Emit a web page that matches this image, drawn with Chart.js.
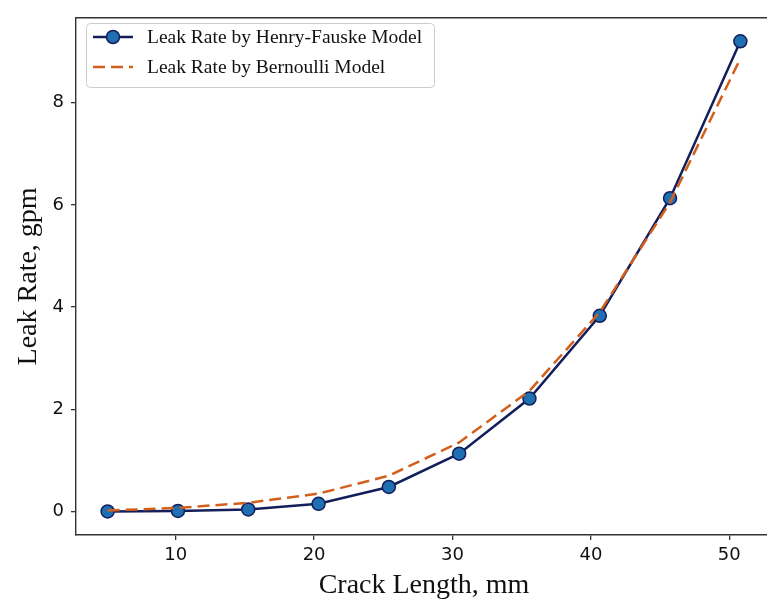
<!DOCTYPE html>
<html>
<head>
<meta charset="utf-8">
<title>Leak Rate vs Crack Length</title>
<script src="https://cdn.jsdelivr.net/npm/chart.js@4/dist/chart.umd.min.js"></script>
<style>
    html, body { margin: 0; padding: 0; background: #fff; overflow: hidden; }
    #wrap { width: 780px; height: 604px; }
</style>
</head>
<body>
<div id="wrap"><canvas id="chart-leak" width="780" height="604"></canvas></div>
<script>
// crack lengths in mm (0.2 in steps)
const crackLength = [5.08, 10.16, 15.24, 20.32, 25.4, 30.48, 35.56, 40.64, 45.72, 50.8];
const henryFauske = [0.0, 0.01, 0.04, 0.15, 0.48, 1.13, 2.21, 3.83, 6.13, 9.2];
const bernoulli = [0.02, 0.07, 0.17, 0.35, 0.7, 1.35, 2.36, 3.9, 6.05, 8.86];
const xTicks = [10, 20, 30, 40, 50];
const yTicks = [0, 2, 4, 6, 8];

const serif = "'Liberation Serif', 'Times New Roman', serif";
const sans = "'DejaVu Sans', sans-serif";

const toPoints = (ys) => crackLength.map((x, i) => ({ x, y: ys[i] }));

// top spine + legend box drawn over the plot
const frameAndLegend = {
    id: 'frameAndLegend',
    afterDraw(chart) {
        const { ctx, chartArea } = chart;
        ctx.save();
        ctx.strokeStyle = '#333';
        ctx.lineWidth = 1.4;
        ctx.beginPath();
        ctx.moveTo(chartArea.left, chartArea.top);
        ctx.lineTo(chartArea.right, chartArea.top);
        ctx.stroke();

        const box = { x: 86, y: 23, w: 348, h: 64 };
        ctx.fillStyle = 'rgba(255,255,255,0.85)';
        ctx.strokeStyle = '#cccccc';
        ctx.lineWidth = 1;
        ctx.beginPath();
        ctx.roundRect(box.x + 0.5, box.y + 0.5, box.w, box.h, 4);
        ctx.fill();
        ctx.stroke();

        const dss = chart.data.datasets;
        ctx.font = '19.5px ' + serif;
        ctx.textBaseline = 'middle';
        dss.forEach((ds, i) => {
            const y = 37 + i * 30;
            ctx.strokeStyle = ds.borderColor;
            ctx.lineWidth = ds.borderWidth;
            ctx.setLineDash(ds.borderDash || []);
            ctx.beginPath();
            ctx.moveTo(93, y);
            ctx.lineTo(133, y);
            ctx.stroke();
            ctx.setLineDash([]);
            if (ds.pointRadius > 0) {
                ctx.fillStyle = ds.pointBackgroundColor;
                ctx.strokeStyle = ds.pointBorderColor;
                ctx.lineWidth = ds.pointBorderWidth;
                ctx.beginPath();
                ctx.arc(113, y, ds.pointRadius, 0, Math.PI * 2);
                ctx.fill();
                ctx.stroke();
            }
            ctx.fillStyle = '#111';
            ctx.fillText(ds.label, 147, y + 1);
        });
        ctx.restore();
    }
};

const axisGrid = {
    display: true,
    drawOnChartArea: false,
    drawTicks: true,
    tickLength: 5,
    color: '#333',
    lineWidth: 1.3
};

new Chart(document.getElementById('chart-leak'), {
    type: 'line',
    data: {
        datasets: [{
            label: 'Leak Rate by Henry-Fauske Model',
            data: toPoints(henryFauske),
            borderColor: '#131f5a',
            borderWidth: 2.5,
            pointRadius: 6.5,
            pointBackgroundColor: '#1f6fb2',
            pointBorderColor: '#131f5a',
            pointBorderWidth: 1.5,
            tension: 0,
            order: 2
        }, {
            label: 'Leak Rate by Bernoulli Model',
            data: toPoints(bernoulli),
            borderColor: '#d2601c',
            borderWidth: 2.5,
            borderDash: [12, 6],
            pointRadius: 0,
            tension: 0,
            order: 1
        }]
    },
    options: {
        responsive: false,
        animation: false,
        devicePixelRatio: 1,
        events: [],
        layout: { padding: { top: 12, left: 0, right: 0, bottom: 0 } },
        plugins: {
            legend: { display: false },
            tooltip: { enabled: false }
        },
        scales: {
            x: {
                type: 'linear',
                min: 2.794,
                max: 53.086,
                afterBuildTicks: (axis) => { axis.ticks = xTicks.map(v => ({ value: v })); },
                afterFit: (axis) => { axis.height = 69; },
                grid: axisGrid,
                border: { display: true, color: '#333', width: 1.4 },
                ticks: { font: { family: sans, size: 18 }, color: '#111', padding: 5, maxRotation: 0 },
                title: {
                    display: true,
                    text: 'Crack Length, mm',
                    font: { family: serif, size: 28 },
                    color: '#111',
                    padding: { top: 0, bottom: 2 }
                }
            },
            y: {
                type: 'linear',
                min: -0.46,
                max: 9.66,
                afterBuildTicks: (axis) => { axis.ticks = yTicks.map(v => ({ value: v })); },
                afterFit: (axis) => { axis.width = 76; },
                grid: axisGrid,
                border: { display: true, color: '#333', width: 1.4 },
                ticks: { font: { family: sans, size: 18 }, color: '#111', padding: 7 },
                title: {
                    display: true,
                    text: 'Leak Rate, gpm',
                    font: { family: serif, size: 28 },
                    color: '#111',
                    padding: { top: 12, bottom: 0 }
                }
            }
        }
    },
    plugins: [frameAndLegend]
});
</script>
</body>
</html>
